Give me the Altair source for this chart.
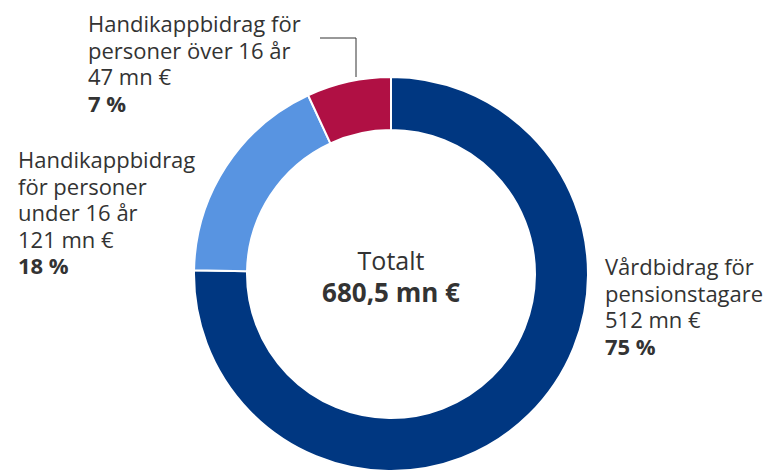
import altair as alt
import pandas as pd

categories = ["Vårdbidrag för pensionstagare",
              "Handikappbidrag för personer under 16 år",
              "Handikappbidrag för personer över 16 år"]
values = [512, 121, 47]
percents = [75, 18, 7]
colors = ["#003781", "#5894E1", "#B01044"]
order = [1, 2, 3]
label_lines = [["Vårdbidrag för", "pensionstagare"],
               ["Handikappbidrag", "för personer", "under 16 år"],
               ["Handikappbidrag för", "personer över 16 år"]]
total_label = "Totalt"
total_value = "680,5 mn €"

df = pd.DataFrame({"cat": categories, "value": values, "ord": order})

FONT = "Open Sans"
FS = 22
TXT = "#333333"
LH = 26.6
CX, CY = 383, 266

donut = alt.Chart(df).mark_arc(innerRadius=144, outerRadius=197, stroke="white", strokeWidth=2).encode(
    theta=alt.Theta("value:Q", stack=True),
    order=alt.Order("ord:Q"),
    color=alt.Color("cat:N", scale=alt.Scale(domain=categories, range=colors), legend=None),
    x=alt.value(CX), y=alt.value(CY),
)

def text_layer(txt, x, y, bold=False, align="left", size=FS):
    return alt.Chart(pd.DataFrame({"t": [txt]})).mark_text(
        align=align, baseline="alphabetic", font=FONT, fontSize=size,
        fontWeight="bold" if bold else "normal", color=TXT, lineHeight=LH,
    ).encode(text="t:N", x=alt.value(x), y=alt.value(y))

layers = [donut]
anchors = [(597, 267), (10, 160), (80, 24)]
for i in range(3):
    x, y0 = anchors[i]
    lines = label_lines[i] + [f"{values[i]} mn €"]
    layers.append(text_layer(lines, x, y0))
    layers.append(text_layer(f"{percents[i]} %", x, y0 + LH * len(lines), bold=True))

layers.append(text_layer(total_label, CX, 262, align="center", size=25))
layers.append(text_layer(total_value, CX, 294, bold=True, align="center", size=26))

leader_h = alt.Chart(pd.DataFrame({"a": [0]})).mark_rule(color="#333333", strokeWidth=1).encode(
    x=alt.value(312), x2=alt.value(348), y=alt.value(30))
leader_v = alt.Chart(pd.DataFrame({"a": [0]})).mark_rule(color="#333333", strokeWidth=1).encode(
    x=alt.value(348), y=alt.value(30), y2=alt.value(69))
layers += [leader_h, leader_v]

chart = alt.layer(*layers).properties(
    width=758, height=464, autosize=alt.AutoSizeParams(type="none"), padding=0
).configure_view(stroke=None)

chart.save("out.html", embed_options={"renderer": "svg", "actions": False})
